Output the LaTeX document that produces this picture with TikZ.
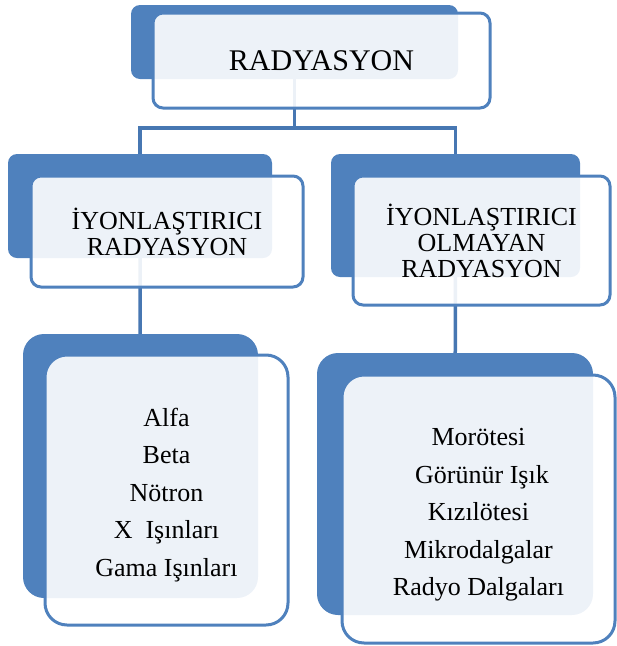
\documentclass[tikz,border=0pt]{standalone}
\usepackage{fontspec}
\setmainfont{Liberation Serif}
\usepackage{tikz}
\usetikzlibrary{backgrounds}
\definecolor{darkblue}{HTML}{4F81BD}
\definecolor{linkblue}{HTML}{4777B2}

\begin{document}
\begin{tikzpicture}[x=1pt,y=-1pt,
  back/.style={fill=darkblue, rounded corners=9pt, inner sep=0pt},
  front/.style={draw=darkblue, line width=3pt, fill=white, fill opacity=.9,
    text opacity=1, rounded corners=10pt, inner sep=0pt, align=center},
  items/.style={align=center, inner sep=0pt, font=\fontsize{26}{37.5}\selectfont},
  link/.style={draw=linkblue, line width=3.5pt}]
          \useasboundingbox (0,0) rectangle (617,646);
          % radyasyon
          \node (rootback) at (294.5,42) [back, minimum width=327pt, minimum height=74pt] {};
          \node (root) at (321.5,60.5) [front, minimum width=337pt, minimum height=95pt,
            font=\fontsize{30}{32}\selectfont] {RADYASYON};
          % iyonlastirici
          \node (ionback) at (140,206) [back, minimum width=264pt, minimum height=104pt] {};
          \node (ion) at (167,231.5) [front, minimum width=272pt, minimum height=111pt,
            font=\fontsize{26}{26}\selectfont] {İYONLAŞTIRICI\\RADYASYON};
          \node (nonback) at (455.5,215.5) [back, minimum width=249pt, minimum height=123pt] {};
          \node (non) at (481.5,240.5) [front, minimum width=257pt, minimum height=129pt,
            font=\fontsize{26}{26}\selectfont] {İYONLAŞTIRICI\\OLMAYAN\\RADYASYON};
          % listeler
          \node (ionlistback) at (140.5,466) [back, rounded corners=21pt,
            minimum width=235pt, minimum height=264pt] {};
          \node (ionlist) at (166.5,490) [front, rounded corners=22pt,
            minimum width=243pt, minimum height=270pt] {};
          \node (ionitems) at (166.5,495) [items]
            {Alfa\\Beta\\Nötron\\X\ \ Işınları\\Gama Işınları};
          \node (nonlistback) at (455,484) [back, rounded corners=21pt,
            minimum width=276pt, minimum height=262pt] {};
          \node (nonlist) at (478.5,509) [front, rounded corners=22pt,
            minimum width=273pt, minimum height=268pt] {};
          \node (nonitems) at (478.5,515) [items]
            {Morötesi\\\hspace*{7pt}Görünür Işık\\Kızılötesi\\Mikrodalgalar\\Radyo Dalgaları};
          \coordinate (bus) at (0,128);
          \begin{scope}[on background layer]
            \draw[link] (rootback.center) -- (rootback.center |- bus) -| (ionback.center);
            \draw[link] (rootback.center |- bus) -| (nonback.center);
            \draw[link] (ionback.center) to (ionlistback.center);
            \draw[link] (nonback.center) to (nonlistback.center);
          \end{scope}
        \end{tikzpicture}
\end{document}
